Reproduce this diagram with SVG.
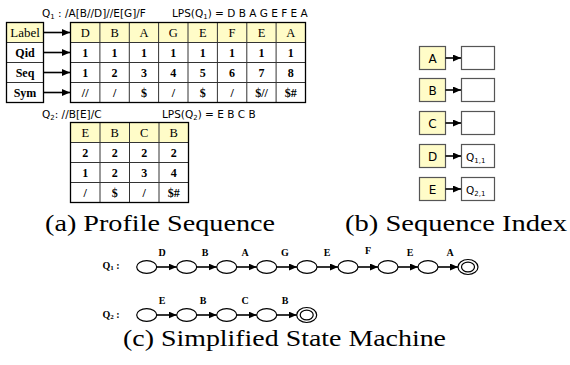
<svg xmlns="http://www.w3.org/2000/svg" width="570" height="365" viewBox="0 0 570 365">
<defs>
<marker id="ah" viewBox="0 0 10 10" refX="10" refY="5" markerWidth="8" markerHeight="7" markerUnits="userSpaceOnUse" orient="auto" preserveAspectRatio="none"><path d="M0,0 L10,5 L0,10 z" fill="#000"/></marker>
<style>
.cell{fill:#fff;stroke:#333;stroke-width:1}
.hcell{fill:#FFFCC8;stroke:#333;stroke-width:1}
.frame{fill:none;stroke:#000;stroke-width:1.3}
.tl{font-family:"Liberation Serif",serif;font-size:13px;text-anchor:middle}
.tb{font-family:"Liberation Serif",serif;font-size:12px;font-weight:bold;text-anchor:middle}
.th{font-family:"Liberation Serif",serif;font-size:12.5px;text-anchor:middle}
.hd{font-family:"DejaVu Sans",sans-serif;font-size:10.5px}
.sub{font-size:7px}
.conn{stroke:#000;stroke-width:1.6;fill:none;marker-end:url(#ah)}
.ib{fill:#FFFCC8;stroke:#555;stroke-width:1.2}
.iw{fill:#fff;stroke:#555;stroke-width:1.2}
.it{font-family:"DejaVu Sans",sans-serif;font-size:12px;text-anchor:middle}
.st{fill:#fff;stroke:#000;stroke-width:1.2}
.sl{font-family:"Liberation Serif",serif;font-size:10px;font-weight:bold;text-anchor:middle}
.cap{font-family:"Liberation Serif",serif;font-size:23px}
</style>
</defs>

<!-- headings -->
<text class="hd" x="42" y="17">Q<tspan class="sub" dy="2">1</tspan><tspan dy="-2"> : /A[B//D]//E[G]/F</tspan></text>
<text class="hd" x="172" y="17">LPS(Q<tspan class="sub" dy="2">1</tspan><tspan dy="-2">) = D B A G E F E A</tspan></text>
<text class="hd" x="42" y="118">Q<tspan class="sub" dy="2">2</tspan><tspan dy="-2">: //B[E]/C</tspan></text>
<text class="hd" x="162" y="118">LPS(Q<tspan class="sub" dy="2">2</tspan><tspan dy="-2">) = E B C B</tspan></text>

<!-- label column -->
<g id="label-col">
<rect class="hcell" x="6.5" y="22.5" width="37" height="20"/>
<rect class="cell" x="6.5" y="42.5" width="37" height="20"/>
<rect class="cell" x="6.5" y="62.5" width="37" height="20"/>
<rect class="cell" x="6.5" y="82.5" width="37" height="20"/>
<rect class="frame" x="6.5" y="22.5" width="37" height="80"/>
<text class="tl" x="25" y="37">Label</text>
<text class="tb" x="25" y="57">Qid</text>
<text class="tb" x="25" y="77">Seq</text>
<text class="tb" x="25" y="97">Sym</text>
</g>

<!-- table Q1 -->
<g id="table-q1">
<rect class="hcell" x="70.5" y="22.5" width="235" height="20"/>
<rect class="cell" x="70.5" y="42.5" width="235" height="60"/>
<g stroke="#333" stroke-width="1">
<line x1="70.5" y1="62.5" x2="305.5" y2="62.5"/>
<line x1="70.5" y1="82.5" x2="305.5" y2="82.5"/>
<line x1="99.9" y1="22.5" x2="99.9" y2="102.5"/>
<line x1="129.3" y1="22.5" x2="129.3" y2="102.5"/>
<line x1="158.6" y1="22.5" x2="158.6" y2="102.5"/>
<line x1="188" y1="22.5" x2="188" y2="102.5"/>
<line x1="217.4" y1="22.5" x2="217.4" y2="102.5"/>
<line x1="246.8" y1="22.5" x2="246.8" y2="102.5"/>
<line x1="276.1" y1="22.5" x2="276.1" y2="102.5"/>
</g>
<rect class="frame" x="70.5" y="22.5" width="235" height="80"/>
<g class="th">
<text x="85.2" y="37">D</text><text x="114.6" y="37">B</text><text x="144" y="37">A</text><text x="173.3" y="37">G</text><text x="202.7" y="37">E</text><text x="232.1" y="37">F</text><text x="261.5" y="37">E</text><text x="290.8" y="37">A</text>
</g>
<g class="tb">
<text x="85.2" y="57">1</text><text x="114.6" y="57">1</text><text x="144" y="57">1</text><text x="173.3" y="57">1</text><text x="202.7" y="57">1</text><text x="232.1" y="57">1</text><text x="261.5" y="57">1</text><text x="290.8" y="57">1</text>
<text x="85.2" y="77">1</text><text x="114.6" y="77">2</text><text x="144" y="77">3</text><text x="173.3" y="77">4</text><text x="202.7" y="77">5</text><text x="232.1" y="77">6</text><text x="261.5" y="77">7</text><text x="290.8" y="77">8</text>
<text x="85.2" y="97">//</text><text x="114.6" y="97">/</text><text x="144" y="97">$</text><text x="173.3" y="97">/</text><text x="202.7" y="97">$</text><text x="232.1" y="97">/</text><text x="261.5" y="97">$//</text><text x="290.8" y="97">$#</text>
</g>
</g>

<!-- table Q2 -->
<g id="table-q2">
<rect class="hcell" x="70.5" y="122.5" width="118" height="20"/>
<rect class="cell" x="70.5" y="142.5" width="118" height="60"/>
<g stroke="#333" stroke-width="1">
<line x1="70.5" y1="162.5" x2="188.5" y2="162.5"/>
<line x1="70.5" y1="182.5" x2="188.5" y2="182.5"/>
<line x1="100" y1="122.5" x2="100" y2="202.5"/>
<line x1="129.5" y1="122.5" x2="129.5" y2="202.5"/>
<line x1="159" y1="122.5" x2="159" y2="202.5"/>
</g>
<rect class="frame" x="70.5" y="122.5" width="118" height="80"/>
<g class="th">
<text x="85.2" y="137">E</text><text x="114.7" y="137">B</text><text x="144.2" y="137">C</text><text x="173.7" y="137">B</text>
</g>
<g class="tb">
<text x="85.2" y="157">2</text><text x="114.7" y="157">2</text><text x="144.2" y="157">2</text><text x="173.7" y="157">2</text>
<text x="85.2" y="177">1</text><text x="114.7" y="177">2</text><text x="144.2" y="177">3</text><text x="173.7" y="177">4</text>
<text x="85.2" y="197">/</text><text x="114.7" y="197">$</text><text x="144.2" y="197">/</text><text x="173.7" y="197">$#</text>
</g>
</g>

<!-- sequence index -->
<g id="idx-A"><rect class="ib" x="419.5" y="46.5" width="26" height="23"/><text class="it" x="432.5" y="62.5">A</text><rect class="iw" x="461.5" y="46.5" width="33" height="23"/></g>
<g id="idx-B"><rect class="ib" x="419.5" y="78.5" width="26" height="23"/><text class="it" x="432.5" y="94.5">B</text><rect class="iw" x="461.5" y="78.5" width="33" height="23"/></g>
<g id="idx-C"><rect class="ib" x="419.5" y="111.5" width="26" height="23"/><text class="it" x="432.5" y="127.5">C</text><rect class="iw" x="461.5" y="111.5" width="33" height="23"/></g>
<g id="idx-D"><rect class="ib" x="419.5" y="144.5" width="26" height="23"/><text class="it" x="432.5" y="160.5">D</text><rect class="iw" x="461.5" y="144.5" width="33" height="23"/><text class="hd" x="466" y="160.5" font-size="11px">Q<tspan class="sub" dy="2">1,1</tspan></text></g>
<g id="idx-E"><rect class="ib" x="419.5" y="177.5" width="26" height="23"/><text class="it" x="432.5" y="193.5">E</text><rect class="iw" x="461.5" y="177.5" width="33" height="23"/><text class="hd" x="466" y="193.5" font-size="11px">Q<tspan class="sub" dy="2">2,1</tspan></text></g>

<!-- state machine Q1 -->
<text class="sl" x="111" y="269">Q<tspan font-size="7px" dy="1">1</tspan><tspan dy="-1"> :</tspan></text>
<g id="q1-states">
<ellipse class="st" cx="146.7" cy="267" rx="10" ry="6.3"/>
<ellipse class="st" cx="186.7" cy="267" rx="10" ry="6.3"/>
<ellipse class="st" cx="226.7" cy="267" rx="10" ry="6.3"/>
<ellipse class="st" cx="266.7" cy="267" rx="10" ry="6.3"/>
<ellipse class="st" cx="307" cy="267" rx="10" ry="6.3"/>
<ellipse class="st" cx="348" cy="267" rx="10" ry="6.3"/>
<ellipse class="st" cx="388" cy="267" rx="10" ry="6.3"/>
<ellipse class="st" cx="428" cy="267" rx="10" ry="6.3"/>
<ellipse class="st" cx="468" cy="267" rx="10" ry="7.5"/>
<ellipse class="st" cx="468" cy="267" rx="6.5" ry="4.8"/>
</g>
<!-- state machine Q2 -->
<text class="sl" x="111" y="318">Q<tspan font-size="7px" dy="1">2</tspan><tspan dy="-1"> :</tspan></text>
<g id="q2-states">
<ellipse class="st" cx="146.7" cy="315" rx="10" ry="6.3"/>
<ellipse class="st" cx="186.7" cy="315" rx="10" ry="6.3"/>
<ellipse class="st" cx="226.7" cy="315" rx="10" ry="6.3"/>
<ellipse class="st" cx="266.7" cy="315" rx="10" ry="6.3"/>
<ellipse class="st" cx="306.7" cy="315" rx="10" ry="7.5"/>
<ellipse class="st" cx="306.7" cy="315" rx="6.5" ry="4.8"/>
</g>

<g id="connectors">
<line class="conn" x1="43.5" y1="32.5" x2="70" y2="32.5"/>
<line class="conn" x1="43.5" y1="52.5" x2="70" y2="52.5"/>
<line class="conn" x1="43.5" y1="72.5" x2="70" y2="72.5"/>
<line class="conn" x1="43.5" y1="92.5" x2="70" y2="92.5"/>
<line class="conn" x1="445.5" y1="58" x2="461" y2="58"/>
<line class="conn" x1="445.5" y1="90" x2="461" y2="90"/>
<line class="conn" x1="445.5" y1="123" x2="461" y2="123"/>
<line class="conn" x1="445.5" y1="156" x2="461" y2="156"/>
<line class="conn" x1="445.5" y1="189" x2="461" y2="189"/>
<line class="conn" x1="156.7" y1="267" x2="176.7" y2="267"/>
<line class="conn" x1="196.7" y1="267" x2="216.7" y2="267"/>
<line class="conn" x1="236.7" y1="267" x2="256.7" y2="267"/>
<line class="conn" x1="276.7" y1="267" x2="297" y2="267"/>
<line class="conn" x1="317" y1="267" x2="338" y2="267"/>
<line class="conn" x1="358" y1="267" x2="378" y2="267"/>
<line class="conn" x1="398" y1="267" x2="418" y2="267"/>
<line class="conn" x1="438" y1="267" x2="458" y2="267"/>
<line class="conn" x1="156.7" y1="315" x2="176.7" y2="315"/>
<line class="conn" x1="196.7" y1="315" x2="216.7" y2="315"/>
<line class="conn" x1="236.7" y1="315" x2="256.7" y2="315"/>
<line class="conn" x1="276.7" y1="315" x2="296.7" y2="315"/>
<g class="sl">
<text x="162" y="256">D</text><text x="205" y="256">B</text><text x="245" y="256">A</text><text x="285" y="256">G</text><text x="327" y="256">E</text><text x="368" y="254">F</text><text x="410" y="256">E</text><text x="450" y="256">A</text>
<text x="162" y="304">E</text><text x="203" y="304">B</text><text x="245" y="304">C</text><text x="285" y="304">B</text>
</g>
</g>

<!-- captions -->
<text class="cap" x="45" y="231" textLength="230" lengthAdjust="spacingAndGlyphs">(a) Profile Sequence</text>
<text class="cap" x="345" y="231" textLength="222" lengthAdjust="spacingAndGlyphs">(b) Sequence Index</text>
<text class="cap" x="123" y="346" textLength="323" lengthAdjust="spacingAndGlyphs">(c) Simplified State Machine</text>
</svg>
